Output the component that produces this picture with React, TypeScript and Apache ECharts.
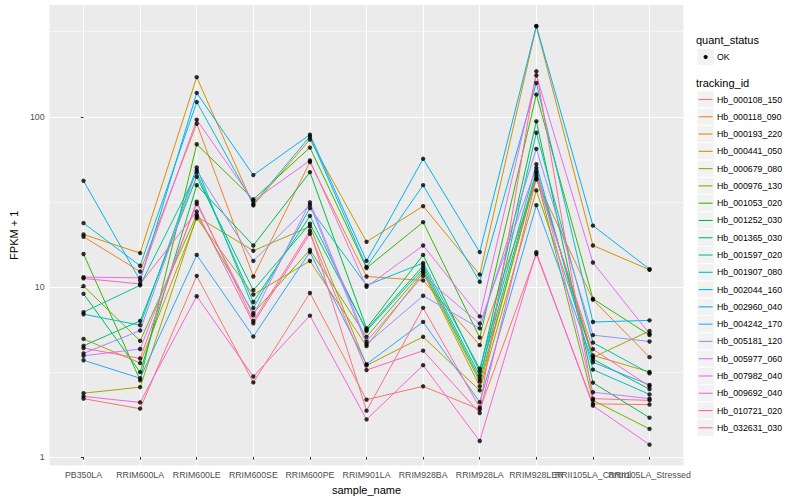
import React, { useEffect, useRef } from "react";
import * as echarts from "echarts";

const categories = [
  "PB350LA", "RRIM600LA", "RRIM600LE", "RRIM600SE", "RRIM600PE", "RRIM901LA",
  "RRIM928BA", "RRIM928LA", "RRIM928LER", "RRII105LA_Control", "RRII105LA_Stressed",
];

const trackingIds = [
  "Hb_000108_150", "Hb_000118_090", "Hb_000193_220", "Hb_000441_050", "Hb_000679_080",
  "Hb_000976_130", "Hb_001053_020", "Hb_001252_030", "Hb_001365_030", "Hb_001597_020",
  "Hb_001907_080", "Hb_002044_160", "Hb_002960_040", "Hb_004242_170", "Hb_005181_120",
  "Hb_005977_060", "Hb_007982_040", "Hb_009692_040", "Hb_010721_020", "Hb_032631_030",
];

const trackingColors = [
  "#F8766D", "#EA8331", "#D89000", "#C09B00", "#A3A500", "#7CAE00", "#39B600",
  "#00BB4E", "#00BF7D", "#00C1A3", "#00BFC4", "#00BAE0", "#00B0F6", "#35A2FF",
  "#9590FF", "#C77CFF", "#E76BF3", "#FA62DB", "#FF62BC", "#FF6C91",
];

// FPKM + 1 per tracking id, one value per sample
const hb000108_150 = [2.2, 1.92, 11.6, 2.74, 9.2, 2.17, 2.6, 1.9, 15.6, 2.05, 2.03];
const hb000118_090 = [19.7, 12.3, 91, 11.5, 54.2, 11.5, 10.9, 4.54, 42.7, 8.4, 3.86];
const hb000193_220 = [20.3, 15.8, 171, 30.1, 73.5, 18.4, 29.8, 11.8, 340, 17.5, 12.6];
const hb000441_050 = [4.94, 3.56, 25.3, 9.0, 14.2, 4.48, 12.1, 2.6, 46.6, 3.95, 3.16];
const hb000679_080 = [2.37, 2.57, 25.9, 16.3, 22.6, 3.45, 5.08, 2.46, 36.9, 3.85, 5.5];
const hb000976_130 = [10.1, 4.81, 26.5, 7.0, 16.5, 5.08, 12.4, 2.77, 45, 2.15, 1.46];
const hb001053_020 = [15.6, 2.82, 68.9, 32.7, 65.9, 12.9, 24, 5.03, 135, 8.5, 5.2];
const hb001252_030 = [9.1, 3.15, 39.6, 17.5, 47.2, 5.7, 15.4, 3.17, 94, 2.73, 1.7];
const hb001365_030 = [4.5, 6.3, 44.4, 9.55, 23.5, 5.6, 13.3, 3.0, 48, 3.75, 2.5];
const hb001597_020 = [7.1, 10.2, 47, 8.14, 26.1, 5.5, 12.8, 2.87, 80.5, 4.7, 3.1];
const hb001907_080 = [6.9, 5.95, 50.3, 7.5, 29, 10.2, 13.8, 3.3, 52.6, 3.26, 2.33];
const hb002044_160 = [23.7, 13.3, 122, 30.7, 76.5, 13.1, 39.6, 10.7, 158, 6.21, 6.35];
const hb002960_040 = [42, 10.9, 138, 45.4, 78.5, 14.2, 56.6, 16, 342, 22.9, 12.7];
const hb004242_170 = [3.7, 2.9, 15.4, 5.1, 16.0, 3.51, 6.22, 2.1, 30.2, 3.6, 2.65];
const hb005181_120 = [4.06, 5.53, 48.5, 14.2, 30.3, 4.6, 8.86, 5.7, 64.7, 5.2, 4.77];
const hb005977_060 = [3.93, 4.31, 30.7, 6.8, 31.4, 4.77, 11.6, 6.08, 50.1, 2.4, 2.2];
const hb007982_040 = [11.4, 11.3, 96, 32, 55.3, 10.0, 17.5, 6.7, 175, 13.9, 5.3];
const hb009692_040 = [2.27, 2.09, 8.8, 2.97, 6.77, 1.66, 3.46, 1.24, 16.0, 2.0, 1.18];
const hb010721_020 = [11.2, 10.4, 27.7, 6.1, 20.5, 3.24, 4.21, 1.81, 43.4, 4.3, 2.6];
const hb032631_030 = [4.36, 3.79, 31.7, 6.3, 21.3, 1.87, 7.52, 1.95, 185, 2.2, 2.15];

const seriesValues = [
  hb000108_150, hb000118_090, hb000193_220, hb000441_050, hb000679_080,
  hb000976_130, hb001053_020, hb001252_030, hb001365_030, hb001597_020,
  hb001907_080, hb002044_160, hb002960_040, hb004242_170, hb005181_120,
  hb005977_060, hb007982_040, hb009692_040, hb010721_020, hb032631_030,
];

const yMajorTicks = [1, 10, 100];
const yMinorTicks = [3.1623, 31.623, 316.23];

const FONT = "Liberation Sans, Arial, Helvetica, sans-serif";

export default function App() {
  const ref = useRef<HTMLDivElement>(null);

  useEffect(() => {
    if (!ref.current) return;
    const chart = echarts.init(ref.current, null, { renderer: "svg" });

    const all = seriesValues.flat();
    const lo = Math.log10(Math.min(...all));
    const hi = Math.log10(Math.max(...all));
    const pad = (hi - lo) * 0.05;
    const yMin = lo - pad;
    const yMax = hi + pad;
    const catIdx = categories.map((_, i) => i);
    const evenIdx = catIdx.filter((i) => i % 2 === 0);
    const oddIdx = catIdx.filter((i) => i % 2 === 1);

    const lineSeries = seriesValues.map((vals, s) => ({
      type: "line",
      name: trackingIds[s],
      data: vals.map((v, i) => [i, Math.log10(v)]),
      showSymbol: false,
      symbol: "none",
      lineStyle: { color: trackingColors[s], width: 1 },
      itemStyle: { color: trackingColors[s] },
      z: 2,
      silent: true,
    }));

    const pointSeries = {
      type: "scatter",
      name: "OK",
      data: seriesValues.flatMap((vals) => vals.map((v, i) => [i, Math.log10(v)])),
      symbol: "circle",
      symbolSize: 4.4,
      itemStyle: { color: "#000000" },
      z: 5,
      silent: true,
    };

    const legendX = 697;
    const keySize = 17.28;
    const firstKeyCenter = 99.5;
    const legendEls: any[] = [
      { type: "text", x: 696, y: 40, style: { text: "quant_status", font: `11px ${FONT}`, fill: "#000", textVerticalAlign: "middle" } },
      { type: "rect", shape: { x: legendX, y: 57 - keySize / 2, width: keySize, height: keySize }, style: { fill: "#F2F2F2", stroke: "#FFFFFF", lineWidth: 1 } },
      { type: "circle", shape: { cx: legendX + keySize / 2, cy: 57, r: 2.1 }, style: { fill: "#000" } },
      { type: "text", x: 717, y: 57, style: { text: "OK", font: `8.8px ${FONT}`, fill: "#000", textVerticalAlign: "middle" } },
      { type: "text", x: 696, y: 83, style: { text: "tracking_id", font: `11px ${FONT}`, fill: "#000", textVerticalAlign: "middle" } },
    ];
    trackingIds.forEach((id, i) => {
      const cy = firstKeyCenter + i * keySize;
      legendEls.push(
        { type: "rect", shape: { x: legendX, y: cy - keySize / 2, width: keySize, height: keySize }, style: { fill: "#F2F2F2", stroke: "#FFFFFF", lineWidth: 1 } },
        { type: "line", shape: { x1: legendX + 1.7, y1: cy, x2: legendX + keySize - 1.7, y2: cy }, style: { stroke: trackingColors[i], lineWidth: 1.1 } },
        { type: "text", x: 717, y: cy, style: { text: id, font: `8.8px ${FONT}`, fill: "#000", textVerticalAlign: "middle" } },
      );
    });

    const xLabelBase = {
      showMinLabel: true,
      showMaxLabel: true,
      hideOverlap: false,
      formatter: (v: number) => categories[Math.round(v)] ?? "",
      fontSize: 8.8, color: "#4D4D4D", margin: 4.5, fontFamily: FONT,
    };

    chart.setOption({
      animation: false,
      backgroundColor: "#FFFFFF",
      textStyle: { fontFamily: FONT },
      grid: {
        left: 40.5, right: 116.5, top: 5, bottom: 30.7,
        show: true, backgroundColor: "#EBEBEB", borderWidth: 0,
      },
      xAxis: [
        {
          type: "value",
          position: "bottom",
          min: -0.6,
          max: categories.length - 1 + 0.6,
          name: "sample_name",
          nameLocation: "middle",
          nameGap: 13,
          nameTextStyle: { fontSize: 11, color: "#000", fontFamily: FONT },
          axisLine: { show: false },
          axisTick: { show: true, length: 2.75, lineStyle: { color: "#333333", width: 1 }, customValues: catIdx },
          axisLabel: { ...xLabelBase, customValues: evenIdx },
          splitLine: { show: true, lineStyle: { color: "#FFFFFF", width: 1.1 } },
        },
        {
          type: "value",
          position: "bottom",
          offset: 0,
          min: -0.6,
          max: categories.length - 1 + 0.6,
          axisLine: { show: false },
          axisTick: { show: false, customValues: oddIdx },
          axisLabel: { ...xLabelBase, customValues: oddIdx },
          splitLine: { show: false },
        },
      ],
      yAxis: [
        {
          type: "value",
          min: yMin,
          max: yMax,
          name: "FPKM + 1",
          nameLocation: "middle",
          nameGap: 23,
          nameTextStyle: { fontSize: 11, color: "#000", fontFamily: FONT },
          axisLine: { show: false },
          axisTick: { show: true, length: 2.75, lineStyle: { color: "#333333", width: 1 }, customValues: yMajorTicks.map((t) => Math.log10(t)) },
          axisLabel: {
            customValues: yMajorTicks.map((t) => Math.log10(t)),
            showMinLabel: true,
            showMaxLabel: true,
            formatter: (v: number) => String(Math.round(Math.pow(10, v))),
            fontSize: 8.8, color: "#4D4D4D", margin: 5, fontFamily: FONT,
          },
          splitLine: { show: true, lineStyle: { color: "#FFFFFF", width: 1.1 } },
        },
        {
          type: "value",
          min: yMin,
          max: yMax,
          position: "left",
          axisLine: { show: false },
          axisTick: { show: false, customValues: yMinorTicks.map((t) => Math.log10(t)) },
          axisLabel: { show: false, customValues: yMinorTicks.map((t) => Math.log10(t)) },
          splitLine: { show: true, lineStyle: { color: "#FFFFFF", width: 0.55 } },
        },
      ],
      series: [...lineSeries, pointSeries],
      graphic: legendEls,
    });

    return () => chart.dispose();
  }, []);

  return (
    <div
      ref={ref}
      style={{ position: "fixed", left: 0, top: 0, width: 800, height: 500, background: "#fff" }}
    />
  );
}
